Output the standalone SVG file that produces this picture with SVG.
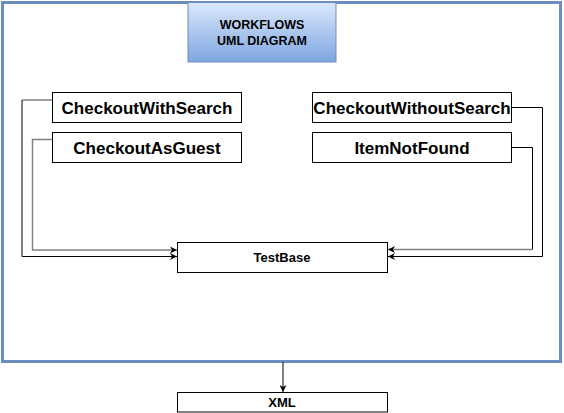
<svg xmlns="http://www.w3.org/2000/svg" width="564" height="413" viewBox="0 0 564 413">
<style>
.box{fill:#fff;stroke:#000;stroke-width:1}
.big{font-family:"Liberation Sans",Arial,sans-serif;font-size:17px;font-weight:bold;fill:#000;text-anchor:middle}
.small{font-family:"Liberation Sans",Arial,sans-serif;font-size:13px;font-weight:bold;fill:#000;text-anchor:middle}
.title{font-family:"Liberation Sans",Arial,sans-serif;font-size:12.5px;font-weight:bold;fill:#000;text-anchor:middle}
.c{fill:none;stroke:#000;stroke-width:1}
.g{fill:none;stroke:#808080;stroke-width:1.5}
</style>
<defs>
<linearGradient id="tg" x1="0" y1="0" x2="0" y2="1">
<stop offset="0" stop-color="#dae8fc"/>
<stop offset="1" stop-color="#7ea6e0"/>
</linearGradient>
<marker id="ar" viewBox="0 0 10 10" refX="10" refY="5" markerWidth="7" markerHeight="7" orient="auto" markerUnits="userSpaceOnUse">
<path d="M0,0 L10,5 L0,10 L3,5 Z" fill="#000"/>
</marker>
</defs>
<g id="frame">
<rect x="2.5" y="2.5" width="558" height="359" fill="#fff" stroke="#6c8ebf" stroke-width="3"/>
</g>
<g id="title">
<rect x="188" y="2.5" width="148" height="59.5" fill="url(#tg)" stroke="#6c8ebf" stroke-width="1"/>
<text class="title" x="262" y="29">WORKFLOWS</text>
<text class="title" x="262" y="45">UML DIAGRAM</text>
</g>
<g id="connectors">
<path class="g" d="M52,100 L22,100"/>
<path class="c" d="M22,100 L22,256.5 L177,256.5" marker-end="url(#ar)"/>
<path class="g" d="M52,139.5 L32.5,139.5 L32.5,250 L177,250" marker-end="url(#ar)"/>
<path class="c" d="M512,107.5 L542.5,107.5 L542.5,256.5 L388,256.5" marker-end="url(#ar)"/>
<path class="c" d="M512,147.5 L532.5,147.5 L532.5,249.5"/>
<path class="g" d="M532.5,249.5 L388,249.5" marker-end="url(#ar)"/>
<path class="c" d="M283,362 L283,392" marker-end="url(#ar)"/>
</g>
<g id="checkoutWithSearch">
<rect class="box" x="52.5" y="92.5" width="189" height="30"/>
<text class="big" x="147" y="113.5">CheckoutWithSearch</text>
</g>
<g id="checkoutAsGuest">
<rect class="box" x="52.5" y="132.5" width="189" height="30"/>
<text class="big" x="147" y="153.5">CheckoutAsGuest</text>
</g>
<g id="checkoutWithoutSearch">
<rect class="box" x="312.5" y="92.5" width="199" height="30"/>
<text class="big" x="412" y="113.5">CheckoutWithoutSearch</text>
</g>
<g id="itemNotFound">
<rect class="box" x="312.5" y="132.5" width="199" height="30"/>
<text class="big" x="412" y="153.5">ItemNotFound</text>
</g>
<g id="testBase">
<rect class="box" x="177.5" y="242.5" width="210" height="30"/>
<text class="small" x="282" y="262">TestBase</text>
</g>
<g id="xml">
<rect class="box" x="177.5" y="392.5" width="210" height="19.5"/>
<text class="small" x="282" y="407">XML</text>
</g>
</svg>
